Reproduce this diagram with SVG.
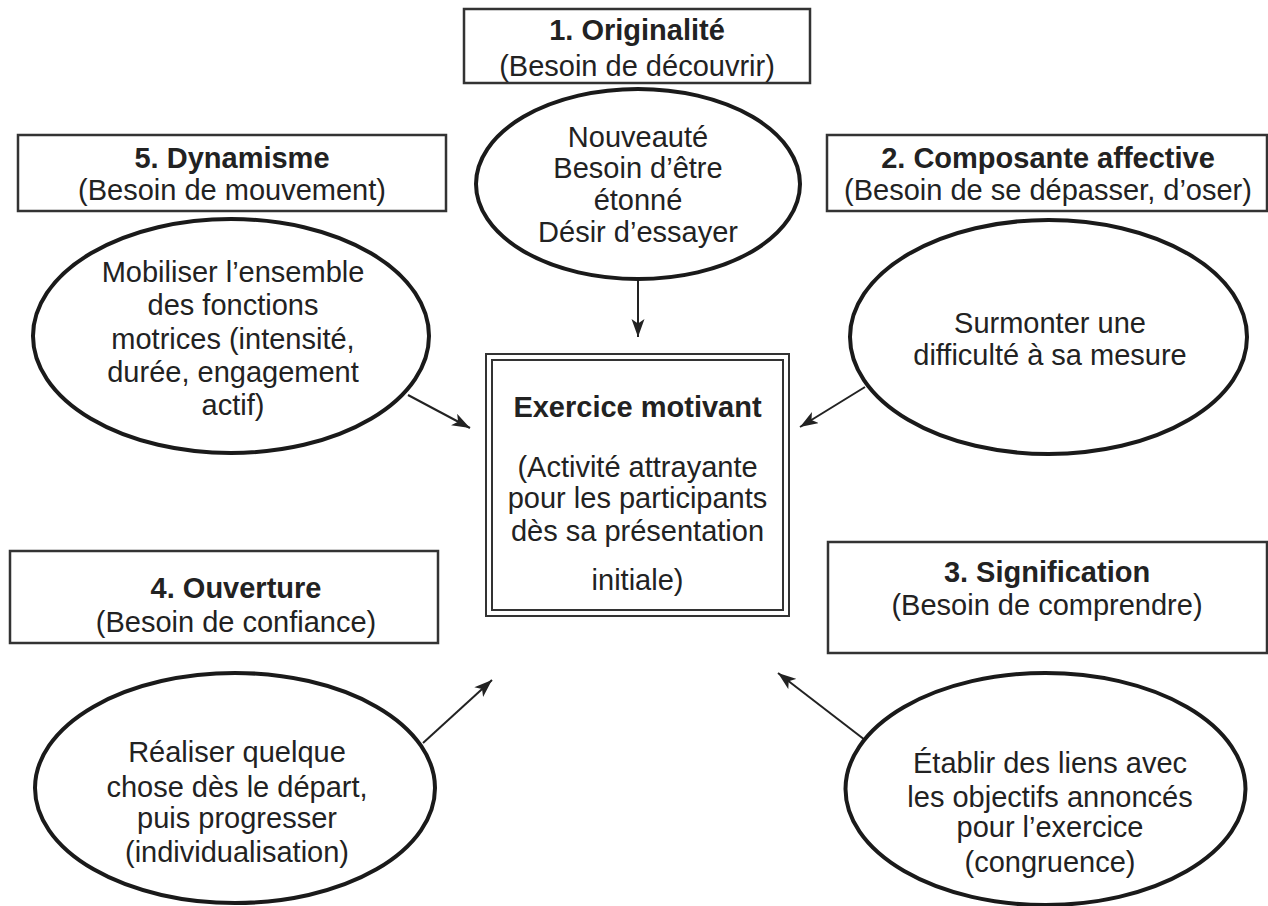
<svg xmlns="http://www.w3.org/2000/svg" width="1268" height="906" viewBox="0 0 1268 906">
<style>
text{font-family:"Liberation Sans",Arial,sans-serif;font-size:29px;fill:#222;text-anchor:middle}
.b{font-weight:bold}
.box{fill:#fff;stroke:#333;stroke-width:2.5}
.ell{fill:#fff;stroke:#1a1a1a;stroke-width:4}
.con{stroke:#222;stroke-width:2;fill:none;marker-end:url(#ah)}
</style>
<defs>
<marker id="ah" markerUnits="userSpaceOnUse" markerWidth="20" markerHeight="14" refX="18" refY="6.5" orient="auto">
<path d="M0,0 L18,6.5 L0,13 L4.5,6.5 Z" fill="#222"/>
</marker>
</defs>
<rect width="1268" height="906" fill="#fff"/>

<g id="connectors">
<line class="con" x1="638" y1="278" x2="638" y2="337"/>
<line class="con" x1="865" y1="387" x2="800" y2="427"/>
<line class="con" x1="408" y1="395" x2="470" y2="428"/>
<line class="con" x1="423" y1="743" x2="492" y2="680"/>
<line class="con" x1="865" y1="740" x2="778" y2="673"/>
</g>

<g id="box1">
<rect class="box" x="464" y="9" width="346" height="74"/>
<text class="b" x="637" y="40">1. Originalité</text>
<text x="637" y="76">(Besoin de découvrir)</text>
</g>
<g id="ell1">
<ellipse class="ell" cx="638" cy="184" rx="162" ry="95"/>
<text x="638" y="147">Nouveauté</text>
<text x="638" y="178">Besoin d’être</text>
<text x="638" y="210">étonné</text>
<text x="638" y="242">Désir d’essayer</text>
</g>

<g id="box5">
<rect class="box" x="18" y="135" width="428" height="76"/>
<text class="b" x="232" y="168">5. Dynamisme</text>
<text x="232" y="200">(Besoin de mouvement)</text>
</g>
<g id="ell5">
<ellipse class="ell" cx="231" cy="336" rx="198" ry="117"/>
<text x="233" y="282">Mobiliser l’ensemble</text>
<text x="233" y="315">des fonctions</text>
<text x="233" y="349">motrices (intensité,</text>
<text x="233" y="382">durée, engagement</text>
<text x="233" y="415">actif)</text>
</g>

<g id="box2">
<rect class="box" x="827" y="135" width="440" height="76"/>
<text class="b" x="1048" y="168">2. Composante affective</text>
<text x="1048" y="200">(Besoin de se dépasser, d’oser)</text>
</g>
<g id="ell2">
<ellipse class="ell" cx="1048.5" cy="337" rx="198.5" ry="117"/>
<text x="1050" y="333">Surmonter une</text>
<text x="1050" y="365">difficulté à sa mesure</text>
</g>

<g id="center">
<rect x="486" y="354" width="303" height="262" fill="#fff" stroke="#333" stroke-width="2"/>
<rect x="492" y="360" width="291" height="250" fill="none" stroke="#333" stroke-width="2"/>
<text class="b" x="637.5" y="417">Exercice motivant</text>
<text x="637.5" y="477">(Activité attrayante</text>
<text x="637.5" y="508">pour les participants</text>
<text x="637.5" y="541">dès sa présentation</text>
<text x="637.5" y="590">initiale)</text>
</g>

<g id="box4">
<rect class="box" x="10" y="551" width="428" height="92"/>
<text class="b" x="236" y="598">4. Ouverture</text>
<text x="236" y="632">(Besoin de confiance)</text>
</g>
<g id="ell4">
<ellipse class="ell" cx="235" cy="788" rx="200" ry="115"/>
<text x="237" y="762">Réaliser quelque</text>
<text x="237" y="797">chose dès le départ,</text>
<text x="237" y="828">puis progresser</text>
<text x="237" y="862">(individualisation)</text>
</g>

<g id="box3">
<rect class="box" x="828" y="542" width="439" height="111"/>
<text class="b" x="1047" y="582">3. Signification</text>
<text x="1047" y="615">(Besoin de comprendre)</text>
</g>
<g id="ell3">
<ellipse class="ell" cx="1045.5" cy="789" rx="200" ry="116"/>
<text x="1050" y="773">Établir des liens avec</text>
<text x="1050" y="807">les objectifs annoncés</text>
<text x="1050" y="837">pour l’exercice</text>
<text x="1050" y="872">(congruence)</text>
</g>
</svg>
